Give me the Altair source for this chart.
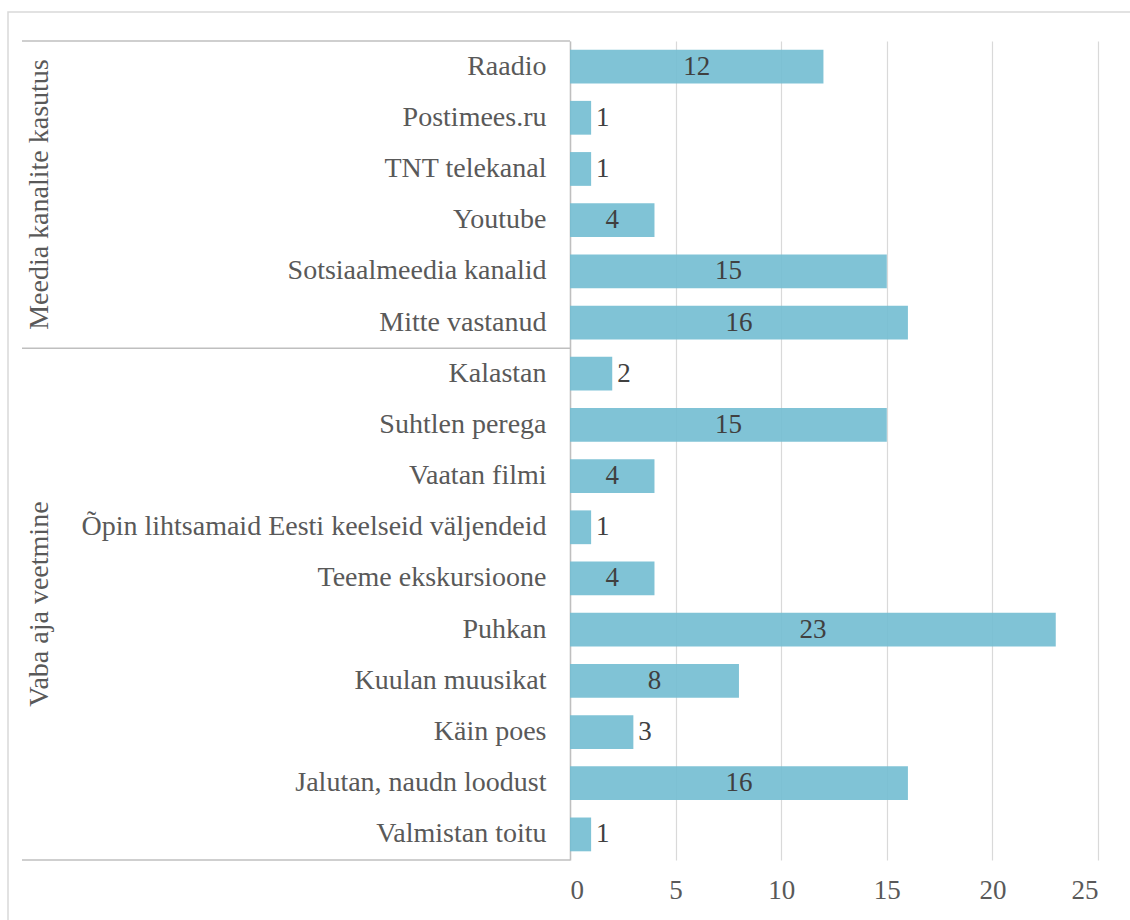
import altair as alt
import pandas as pd

# Survey answers, two question groups, rows listed top to bottom
groups = ["Meedia kanalite kasutus", "Vaba aja veetmine"]

media_items = [
    "Raadio",
    "Postimees.ru",
    "TNT telekanal",
    "Youtube",
    "Sotsiaalmeedia kanalid",
    "Mitte vastanud",
]
media_counts = [12, 1, 1, 4, 15, 16]

leisure_items = [
    "Kalastan",
    "Suhtlen perega",
    "Vaatan filmi",
    "Õpin lihtsamaid Eesti keelseid väljendeid",
    "Teeme ekskursioone",
    "Puhkan",
    "Kuulan muusikat",
    "Käin poes",
    "Jalutan, naudn loodust",
    "Valmistan toitu",
]
leisure_counts = [2, 15, 4, 1, 4, 23, 8, 3, 16, 1]

x_ticks = [0, 5, 10, 15, 20, 25]

FONT = "'Liberation Serif', 'Times New Roman', 'DejaVu Serif', serif"
CAT_SIZE = 28
NUM_SIZE = 27
BAR_COLOR = "#72bdd1"
LABEL_COLOR = "#595959"
VALUE_COLOR = "#404040"
LINE_COLOR = "#bfbfbf"

items = media_items + leisure_items
df = pd.DataFrame(
    {
        "item": items,
        "count": media_counts + leisure_counts,
        "group": [groups[0]] * len(media_items) + [groups[1]] * len(leisure_items),
    }
)

group_rows = [media_items, leisure_items]
group_starts = pd.DataFrame({"item": [rows[0] for rows in group_rows]})
group_mids = pd.DataFrame(
    {"item": [rows[len(rows) // 2] for rows in group_rows], "group": groups}
)
group_end = pd.DataFrame({"item": [items[-1]]})

W, H = 528, 819
LEFT, TOP = 570, 41

y_scale = alt.Scale(domain=items, paddingInner=0, paddingOuter=0)
x_scale = alt.Scale(domain=[0, 25], nice=False)

y_axis = alt.Axis(
    title=None,
    ticks=False,
    tickSize=0,
    grid=False,
    domainColor=LINE_COLOR,
    domainWidth=1.5,
    labelFont=FONT,
    labelFontSize=CAT_SIZE,
    labelColor=LABEL_COLOR,
    labelPadding=24,
    labelLimit=700,
)
x_axis = alt.Axis(
    values=x_ticks,
    grid=True,
    gridColor="#d9d9d9",
    gridWidth=1.2,
    domain=False,
    ticks=False,
    tickSize=0,
    labelFont=FONT,
    labelFontSize=NUM_SIZE,
    labelColor=LABEL_COLOR,
    labelPadding=17,
    title=None,
)


def y_enc(band_position=None):
    if band_position is None:
        return alt.Y("item:N", scale=y_scale, axis=y_axis)
    return alt.Y("item:N", scale=y_scale, axis=y_axis, bandPosition=band_position)


bars = (
    alt.Chart(df)
    .mark_bar(color=BAR_COLOR, opacity=0.9, height={"band": 0.66})
    .encode(x=alt.X("count:Q", scale=x_scale, axis=x_axis), y=y_enc())
)

# value labels: centred in wide bars, just past the end of short ones
inside = (
    alt.Chart(df)
    .transform_filter("datum.count >= 4")
    .transform_calculate(mid="datum.count / 2")
    .mark_text(font=FONT, fontSize=NUM_SIZE, color=VALUE_COLOR, align="center", baseline="middle")
    .encode(x=alt.X("mid:Q", scale=x_scale, axis=x_axis), y=y_enc(), text="count:Q")
)

outside = (
    alt.Chart(df)
    .transform_filter("datum.count < 4")
    .mark_text(font=FONT, fontSize=NUM_SIZE, color=VALUE_COLOR, align="left", baseline="middle", dx=5)
    .encode(x=alt.X("count:Q", scale=x_scale, axis=x_axis), y=y_enc(), text="count:Q")
)

# horizontal separators marking where each group starts and where the last ends
sep_top = (
    alt.Chart(group_starts)
    .mark_rule(color=LINE_COLOR, strokeWidth=1.5)
    .encode(y=y_enc(0), x=alt.value(-(LEFT - 22)), x2=alt.value(0))
)

sep_bottom = (
    alt.Chart(group_end)
    .mark_rule(color=LINE_COLOR, strokeWidth=1.5)
    .encode(y=y_enc(1), x=alt.value(-(LEFT - 22)), x2=alt.value(0))
)

group_labels = (
    alt.Chart(group_mids)
    .mark_text(font=FONT, fontSize=CAT_SIZE, color=LABEL_COLOR, angle=270, align="center", baseline="middle")
    .encode(y=y_enc(0), x=alt.value(40 - LEFT), text="group:N")
)

# light frame around the whole chart
frame = (
    alt.Chart(pd.DataFrame({"k": [0]}))
    .mark_rect(fill=None, stroke="#d9d9d9", strokeWidth=1.5, clip=False)
    .encode(
        x=alt.value(8 - LEFT),
        x2=alt.value(W + 40),
        y=alt.value(12 - TOP),
        y2=alt.value(H + 80),
    )
)

chart = (
    alt.layer(frame, bars, inside, outside, sep_top, sep_bottom, group_labels)
    .properties(
        width=W,
        height=H,
        autosize=alt.AutoSizeParams(type="none"),
        padding={"left": LEFT, "top": TOP, "right": 1130 - LEFT - W, "bottom": 920 - TOP - H},
        background="white",
    )
    .configure_view(stroke=None)
    .configure_axis(labelFont=FONT)
    .configure_text(font=FONT)
)

chart.save("out.html", embed_options={"renderer": "svg", "actions": False})
